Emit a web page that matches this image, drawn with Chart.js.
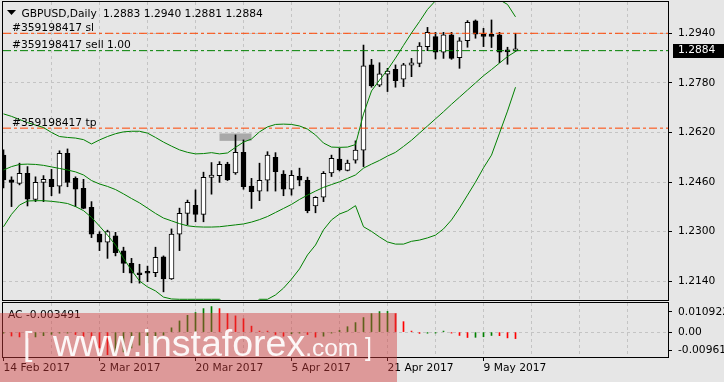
<!DOCTYPE html>
<html>
<head>
<meta charset="utf-8">
<title>GBPUSD Daily</title>
<script src="https://cdn.jsdelivr.net/npm/chart.js@4.4.1/dist/chart.umd.min.js"></script>
<style>
  html, body { margin: 0; padding: 0; background: #e6e6e6; }
  #wrap { position: relative; width: 724px; height: 382px; overflow: hidden; background: #e6e6e6; }
  #main { position: absolute; left: 0; top: 0; }
  #ac { position: absolute; left: 0; top: 300px; }
  #wm { position: absolute; left: 0; top: 313px; width: 397px; height: 69px;
        background: rgba(210, 60, 60, 0.45); color: rgba(255, 255, 255, 0.92);
        font-family: "Liberation Sans", Arial, sans-serif; line-height: 1; white-space: nowrap; }
  #wm .p { position: absolute; }
</style>
</head>
<body>
<div id="wrap">
  <canvas id="main" width="724" height="301"></canvas>
  <canvas id="ac" width="724" height="82"></canvas>
  <div id="wm">
    <span class="p" style="left:23px; top:13px; font-size:34px;">[</span>
    <span class="p" style="left:53px; top:12px; font-size:37.5px;">www.instaforex<span style="font-size:24.5px;">.com</span></span>
    <span class="p" style="left:365px; top:22px; font-size:25px;">]</span>
  </div>
</div>
<script>
// дані графіка
const symbol = 'GBPUSD';
const timeframe = 'Daily';
const orderId = '#359198417';

const tickDates = ['14 Feb 2017', '2 Mar 2017', '20 Mar 2017', '5 Apr 2017', '21 Apr 2017', '9 May 2017'];
const dateBars = [0, 12, 24, 36, 48, 60];
const gridBars = [6, 12, 18, 24, 30, 36, 42, 48, 54, 60, 66, 72, 78];
const priceTicks = [1.2140, 1.2300, 1.2460, 1.2620, 1.2780, 1.2940];
const acTicks = [-0.00961, 0, 0.010922];

const open = [1.2547, 1.2467, 1.2456, 1.2488, 1.2404, 1.2459, 1.2469, 1.2447, 1.2553, 1.2472,
  1.2440, 1.2379, 1.2292, 1.2266, 1.2287, 1.2238, 1.2198, 1.2166, 1.2169, 1.2168,
  1.2219, 1.2148, 1.2292, 1.2359, 1.2385, 1.2356, 1.2475, 1.2481, 1.2518, 1.2490,
  1.2556, 1.2447, 1.2431, 1.2466, 1.2540, 1.2486, 1.2437, 1.2479, 1.2466, 1.2383,
  1.2411, 1.2490, 1.2534, 1.2498, 1.2531, 1.2563, 1.2838, 1.2773, 1.2808, 1.2824,
  1.2792, 1.2837, 1.2843, 1.2897, 1.2929, 1.2879, 1.2935, 1.2861, 1.2916, 1.2980,
  1.2935, 1.2935, 1.2935, 1.2886, 1.2883];
const high = [1.2564, 1.2477, 1.2521, 1.2510, 1.2477, 1.2481, 1.2501, 1.2561, 1.2567, 1.2477,
  1.2469, 1.2397, 1.2300, 1.2305, 1.2298, 1.2250, 1.2214, 1.2195, 1.2189, 1.2250,
  1.2222, 1.2309, 1.2376, 1.2402, 1.2435, 1.2492, 1.2523, 1.2526, 1.2524, 1.2612,
  1.2596, 1.2472, 1.2521, 1.2558, 1.2555, 1.2497, 1.2497, 1.2505, 1.2476, 1.2413,
  1.2494, 1.2547, 1.2569, 1.2531, 1.2593, 1.2902, 1.2856, 1.2845, 1.2827, 1.2838,
  1.2843, 1.2859, 1.2910, 1.2959, 1.2943, 1.2943, 1.2943, 1.2926, 1.2981, 1.2983,
  1.2956, 1.2983, 1.2943, 1.2895, 1.2940];
const low = [1.2441, 1.2381, 1.2451, 1.2383, 1.2397, 1.2397, 1.2416, 1.2424, 1.2445, 1.2381,
  1.2374, 1.2281, 1.2239, 1.2214, 1.2222, 1.2168, 1.2135, 1.2134, 1.2139, 1.2155,
  1.2106, 1.2146, 1.2239, 1.2322, 1.2332, 1.2332, 1.2421, 1.2459, 1.2465, 1.2485,
  1.2437, 1.2375, 1.2400, 1.2431, 1.2431, 1.2416, 1.2418, 1.2448, 1.2361, 1.2361,
  1.2397, 1.2478, 1.2496, 1.2496, 1.2521, 1.2510, 1.2766, 1.2768, 1.2752, 1.2766,
  1.2768, 1.2800, 1.2832, 1.2884, 1.2857, 1.2859, 1.2856, 1.2827, 1.2895, 1.2924,
  1.2897, 1.2894, 1.2845, 1.2840, 1.2881];
const close = [1.2467, 1.2459, 1.2488, 1.2405, 1.2459, 1.2469, 1.2445, 1.2553, 1.2459, 1.2437,
  1.2375, 1.2292, 1.2266, 1.2300, 1.2232, 1.2198, 1.2166, 1.2161, 1.2166, 1.2217,
  1.2148, 1.2292, 1.2359, 1.2395, 1.2356, 1.2475, 1.2483, 1.2517, 1.2467, 1.2556,
  1.2445, 1.2429, 1.2466, 1.2547, 1.2494, 1.2437, 1.2482, 1.2466, 1.2368, 1.2411,
  1.2488, 1.2537, 1.2499, 1.2521, 1.2563, 1.2835, 1.2770, 1.2809, 1.2818, 1.2787,
  1.2838, 1.2845, 1.2899, 1.2943, 1.2879, 1.2935, 1.2859, 1.2916, 1.2975, 1.2937,
  1.2930, 1.2930, 1.2879, 1.2880, 1.2884];

// смуги Боллінджера
const bbUpper = [1.2680, 1.2672, 1.2662, 1.2652, 1.2644, 1.2636, 1.2620, 1.2607, 1.2604, 1.2602,
  1.2597, 1.2583, 1.2596, 1.2607, 1.2616, 1.2622, 1.2624, 1.2624, 1.2618, 1.2604,
  1.2589, 1.2576, 1.2564, 1.2556, 1.2551, 1.2552, 1.2555, 1.2551, 1.2554, 1.2572,
  1.2589, 1.2599, 1.2622, 1.2638, 1.2646, 1.2647, 1.2646, 1.2641, 1.2631, 1.2612,
  1.2586, 1.2573, 1.2572, 1.2573, 1.2581, 1.2680, 1.2754, 1.2789, 1.2822, 1.2860,
  1.2901, 1.2941, 1.2978, 1.3017, 1.3045, 1.3056, 1.3064, 1.3069, 1.3071, 1.3068,
  1.3062, 1.3055, 1.3048, 1.3033, 1.2993];
const bbMiddle = [1.2499, 1.2510, 1.2517, 1.2518, 1.2517, 1.2514, 1.2509, 1.2504, 1.2499, 1.2493,
  1.2483, 1.2465, 1.2454, 1.2446, 1.2436, 1.2422, 1.2407, 1.2393, 1.2376, 1.2359,
  1.2344, 1.2335, 1.2326, 1.2319, 1.2316, 1.2315, 1.2315, 1.2316, 1.2319, 1.2322,
  1.2325, 1.2331, 1.2339, 1.2349, 1.2362, 1.2375, 1.2388, 1.2404, 1.2418, 1.2431,
  1.2443, 1.2452, 1.2461, 1.2472, 1.2483, 1.2505, 1.2518, 1.2530, 1.2544, 1.2556,
  1.2575, 1.2595, 1.2618, 1.2641, 1.2664, 1.2687, 1.2711, 1.2734, 1.2757, 1.2780,
  1.2803, 1.2823, 1.2844, 1.2865, 1.2881];
const bbLower = [1.2316, 1.2356, 1.2386, 1.2399, 1.2400, 1.2400, 1.2398, 1.2395, 1.2391, 1.2381,
  1.2368, 1.2346, 1.2318, 1.2289, 1.2257, 1.2214, 1.2176, 1.2141, 1.2122, 1.2109,
  1.2089, 1.2083, 1.2082, 1.2082, 1.2082, 1.2082, 1.2082, 1.2082, 1.2060, 1.2060,
  1.2060, 1.2060, 1.2082, 1.2082, 1.2096, 1.2118, 1.2147, 1.2180, 1.2225, 1.2257,
  1.2306, 1.2338, 1.2357, 1.2367, 1.2384, 1.2316, 1.2301, 1.2283, 1.2267, 1.2260,
  1.2260, 1.2269, 1.2273, 1.2280, 1.2289, 1.2309, 1.2338, 1.2376, 1.2418, 1.2460,
  1.2506, 1.2547, 1.2618, 1.2689, 1.2766];

// Accelerator Oscillator
const acValues = [-0.0003, -0.0021, -0.0026, -0.0031, -0.0026, -0.0019, -0.0012, -0.0004, -0.0002, -0.0013,
  -0.0025, -0.0047, -0.0085, -0.0121, -0.0117, -0.0106, -0.0085, -0.0070, -0.0058, -0.0045,
  -0.0016, 0.0023, 0.0060, 0.0090, 0.0105, 0.0126, 0.0137, 0.0126, 0.0099, 0.0087,
  0.0072, 0.0032, 0.0005, 0.0003, -0.0013, -0.0022, -0.0009, -0.0002, -0.0013, -0.0027,
  -0.0022, -0.0004, 0.0009, 0.0029, 0.0051, 0.0078, 0.0099, 0.0110, 0.0111, 0.0099,
  0.0056, 0.0005, -0.0007, -0.0006, -0.0001, 0.0001, -0.0001, -0.0018, -0.0029, -0.0028,
  -0.0025, -0.0018, -0.0019, -0.0031, -0.003491];

// рівні ордера: sl, вхід, tp
const levelPrices = [1.2940, 1.2884, 1.2634];
const levelNames = ['sl', 'sell 1.00', 'tp'];
// сіра позначка (бари і ціни)
const shadeBars = [27, 31];
const shadePrices = [1.2593, 1.2617];

// межі шкал
const X_MIN = -0.0625, X_MAX = 83.0625;
const Y_MIN = 1.20797, Y_MAX = 1.30409;
const AC_MIN = -0.013351, AC_MAX = 0.015603;

// стилі
const FAMILY = '"DejaVu Sans", Tahoma, sans-serif';
const FONT = { family: FAMILY, size: 10.7 };
const GRID = '#c4c4c4';
const BAND = '#008000';
const levelColors = ['#ff4500', '#008000', '#ff4500'];
const NONE = 'rgba(0,0,0,0)';

const last = close.length - 1;
const idx = close.map((_, i) => i);

function dateLabel(v) {
  const k = dateBars.indexOf(v);
  return k >= 0 ? tickDates[k] : '';
}

function noPad(s) {
  s.paddingTop = 0; s.paddingBottom = 0; s.paddingLeft = 0; s.paddingRight = 0;
}

function drawFrame(chart) {
  const { ctx, chartArea: a } = chart;
  ctx.save();
  ctx.strokeStyle = '#000';
  ctx.lineWidth = 1;
  ctx.strokeRect(a.left - 0.5, a.top - 0.5, a.right - a.left + 1, a.bottom - a.top + 1);
  ctx.restore();
}

const band = (values) => ({
  type: 'line',
  data: idx.map(i => ({ x: i, y: values[i] })),
  borderColor: BAND, borderWidth: 1, pointRadius: 0, tension: 0, fill: false
});

const levelSets = levelPrices.map((p, k) => ({
  type: 'line',
  data: [{ x: X_MIN, y: p }, { x: X_MAX, y: p }],
  borderColor: levelColors[k], borderWidth: 1, borderDash: [8, 3, 3, 3], pointRadius: 0
}));

// підписи, рамка, ціна
const mainDecor = {
  id: 'mainDecor',
  beforeDatasetsDraw(chart) {
    const { ctx, scales: { x, y } } = chart;
    const x0 = x.getPixelForValue(shadeBars[0]), x1 = x.getPixelForValue(shadeBars[1]);
    const y0 = y.getPixelForValue(shadePrices[1]), y1 = y.getPixelForValue(shadePrices[0]);
    ctx.save();
    ctx.fillStyle = '#a9a9a9';
    ctx.fillRect(x0, y0, x1 - x0, y1 - y0);
    ctx.restore();
  },
  afterDatasetsDraw(chart) {
    const { ctx, chartArea: a, scales: { y } } = chart;
    ctx.save();
    ctx.font = '10.7px ' + FAMILY;
    ctx.fillStyle = '#000';
    levelPrices.forEach((p, k) => {
      ctx.fillText(orderId + ' ' + levelNames[k], a.left + 9, y.getPixelForValue(p) - 2.5);
    });
    ctx.restore();
  },
  afterDraw(chart) {
    const { ctx, chartArea: a, scales: { y } } = chart;
    drawFrame(chart);
    ctx.save();
    ctx.font = '10.7px ' + FAMILY;
    // поточна ціна на шкалі
    const py = y.getPixelForValue(close[last]);
    ctx.fillStyle = '#000';
    ctx.fillRect(a.right + 5, Math.round(py) - 7, chart.width - a.right - 5, 14);
    ctx.fillStyle = '#fff';
    ctx.textBaseline = 'middle';
    ctx.fillText(close[last].toFixed(4), a.right + 10, py);
    // заголовок
    ctx.fillStyle = '#000';
    ctx.textBaseline = 'alphabetic';
    ctx.beginPath();
    ctx.moveTo(7, 10); ctx.lineTo(16, 10); ctx.lineTo(11.5, 15); ctx.closePath();
    ctx.fill();
    ctx.fillText(symbol + ',' + timeframe, 21.5, 17);
    const ohlc = [open[last], high[last], low[last], close[last]].map(v => v.toFixed(4)).join(' ');
    ctx.fillText(ohlc, 103, 17);
    ctx.restore();
  }
};

new Chart(document.getElementById('main'), {
  type: 'bar',
  data: {
    datasets: [
      band(bbUpper), band(bbMiddle), band(bbLower),
      ...levelSets,
      {
        data: idx.map(i => ({ x: i, y: [open[i], close[i]] })),
        backgroundColor: idx.map(i => close[i] >= open[i] ? '#ffffff' : '#000000'),
        borderColor: '#000', borderWidth: 1, borderSkipped: false,
        barThickness: 5, minBarLength: 2, grouped: false
      },
      {
        data: idx.map(i => ({ x: i, y: [low[i], high[i]] })),
        backgroundColor: '#000', borderWidth: 0, barThickness: 1, grouped: false
      }
    ]
  },
  options: {
    responsive: false,
    animation: false,
    events: [],
    layout: { autoPadding: false, padding: { left: 3, top: 2, right: 0, bottom: 1 } },
    plugins: { legend: { display: false }, tooltip: { enabled: false } },
    scales: {
      x: {
        type: 'linear', min: X_MIN, max: X_MAX, offset: false,
        afterBuildTicks: s => { s.ticks = gridBars.map(v => ({ value: v })); },
        afterFit: s => { s.height = 0; noPad(s); },
        ticks: { display: false },
        grid: { color: GRID, drawTicks: false, offset: false },
        border: { display: false, dash: [3, 3] }
      },
      y: {
        position: 'right', min: Y_MIN, max: Y_MAX, beginAtZero: false,
        afterBuildTicks: s => { s.ticks = priceTicks.map(v => ({ value: v })); },
        afterFit: s => { s.width = 56; noPad(s); },
        ticks: { autoSkip: false, color: '#000', font: FONT, padding: 6, callback: v => v.toFixed(4) },
        grid: { color: GRID, tickColor: '#000', tickLength: 4 },
        border: { display: false, dash: [3, 3] }
      }
    }
  },
  plugins: [mainDecor]
});

// нижня панель AC
const acColors = acValues.map((v, i) => (i === 0 || v > acValues[i - 1]) ? '#008000' : '#ff0000');

const acDecor = {
  id: 'acDecor',
  afterDraw(chart) {
    const { ctx, chartArea: a } = chart;
    drawFrame(chart);
    ctx.save();
    ctx.font = '10.7px ' + FAMILY;
    ctx.fillStyle = '#000';
    ctx.fillText('AC ' + acValues[last].toFixed(6), a.left + 5, 18);
    ctx.restore();
  }
};

new Chart(document.getElementById('ac'), {
  type: 'bar',
  data: {
    datasets: [{
      data: idx.map(i => ({ x: i, y: acValues[i] })),
      backgroundColor: acColors, borderWidth: 0, barThickness: 1, minBarLength: 1
    }]
  },
  options: {
    responsive: false,
    animation: false,
    events: [],
    layout: { autoPadding: false, padding: { left: 3, top: 3, right: 0, bottom: 0 } },
    plugins: { legend: { display: false }, tooltip: { enabled: false } },
    scales: {
      x: {
        type: 'linear', min: X_MIN, max: X_MAX, offset: false,
        afterBuildTicks: s => { s.ticks = [0, ...gridBars].map(v => ({ value: v })); },
        afterFit: s => { s.height = 25; noPad(s); },
        ticks: {
          autoSkip: false, maxRotation: 0, minRotation: 0, align: 'start', padding: 1,
          color: '#000', font: FONT, callback: v => dateLabel(v)
        },
        grid: {
          offset: false, tickLength: 4,
          color: c => (c.tick && c.tick.value === 0) ? NONE : GRID,
          tickColor: c => (c.tick && dateLabel(c.tick.value)) ? '#000' : NONE
        },
        border: { display: false, dash: [3, 3] }
      },
      y: {
        position: 'right', min: AC_MIN, max: AC_MAX, beginAtZero: false,
        afterBuildTicks: s => { s.ticks = acTicks.map(v => ({ value: v })); },
        afterFit: s => { s.width = 56; noPad(s); },
        ticks: { autoSkip: false, color: '#000', font: FONT, padding: 6, callback: v => v === 0 ? '0.00' : String(v) },
        grid: { color: c => (c.tick && c.tick.value === 0) ? GRID : NONE, tickColor: '#000', tickLength: 4 },
        border: { display: false, dash: [3, 3] }
      }
    }
  },
  plugins: [acDecor]
});
</script>
</body>
</html>
